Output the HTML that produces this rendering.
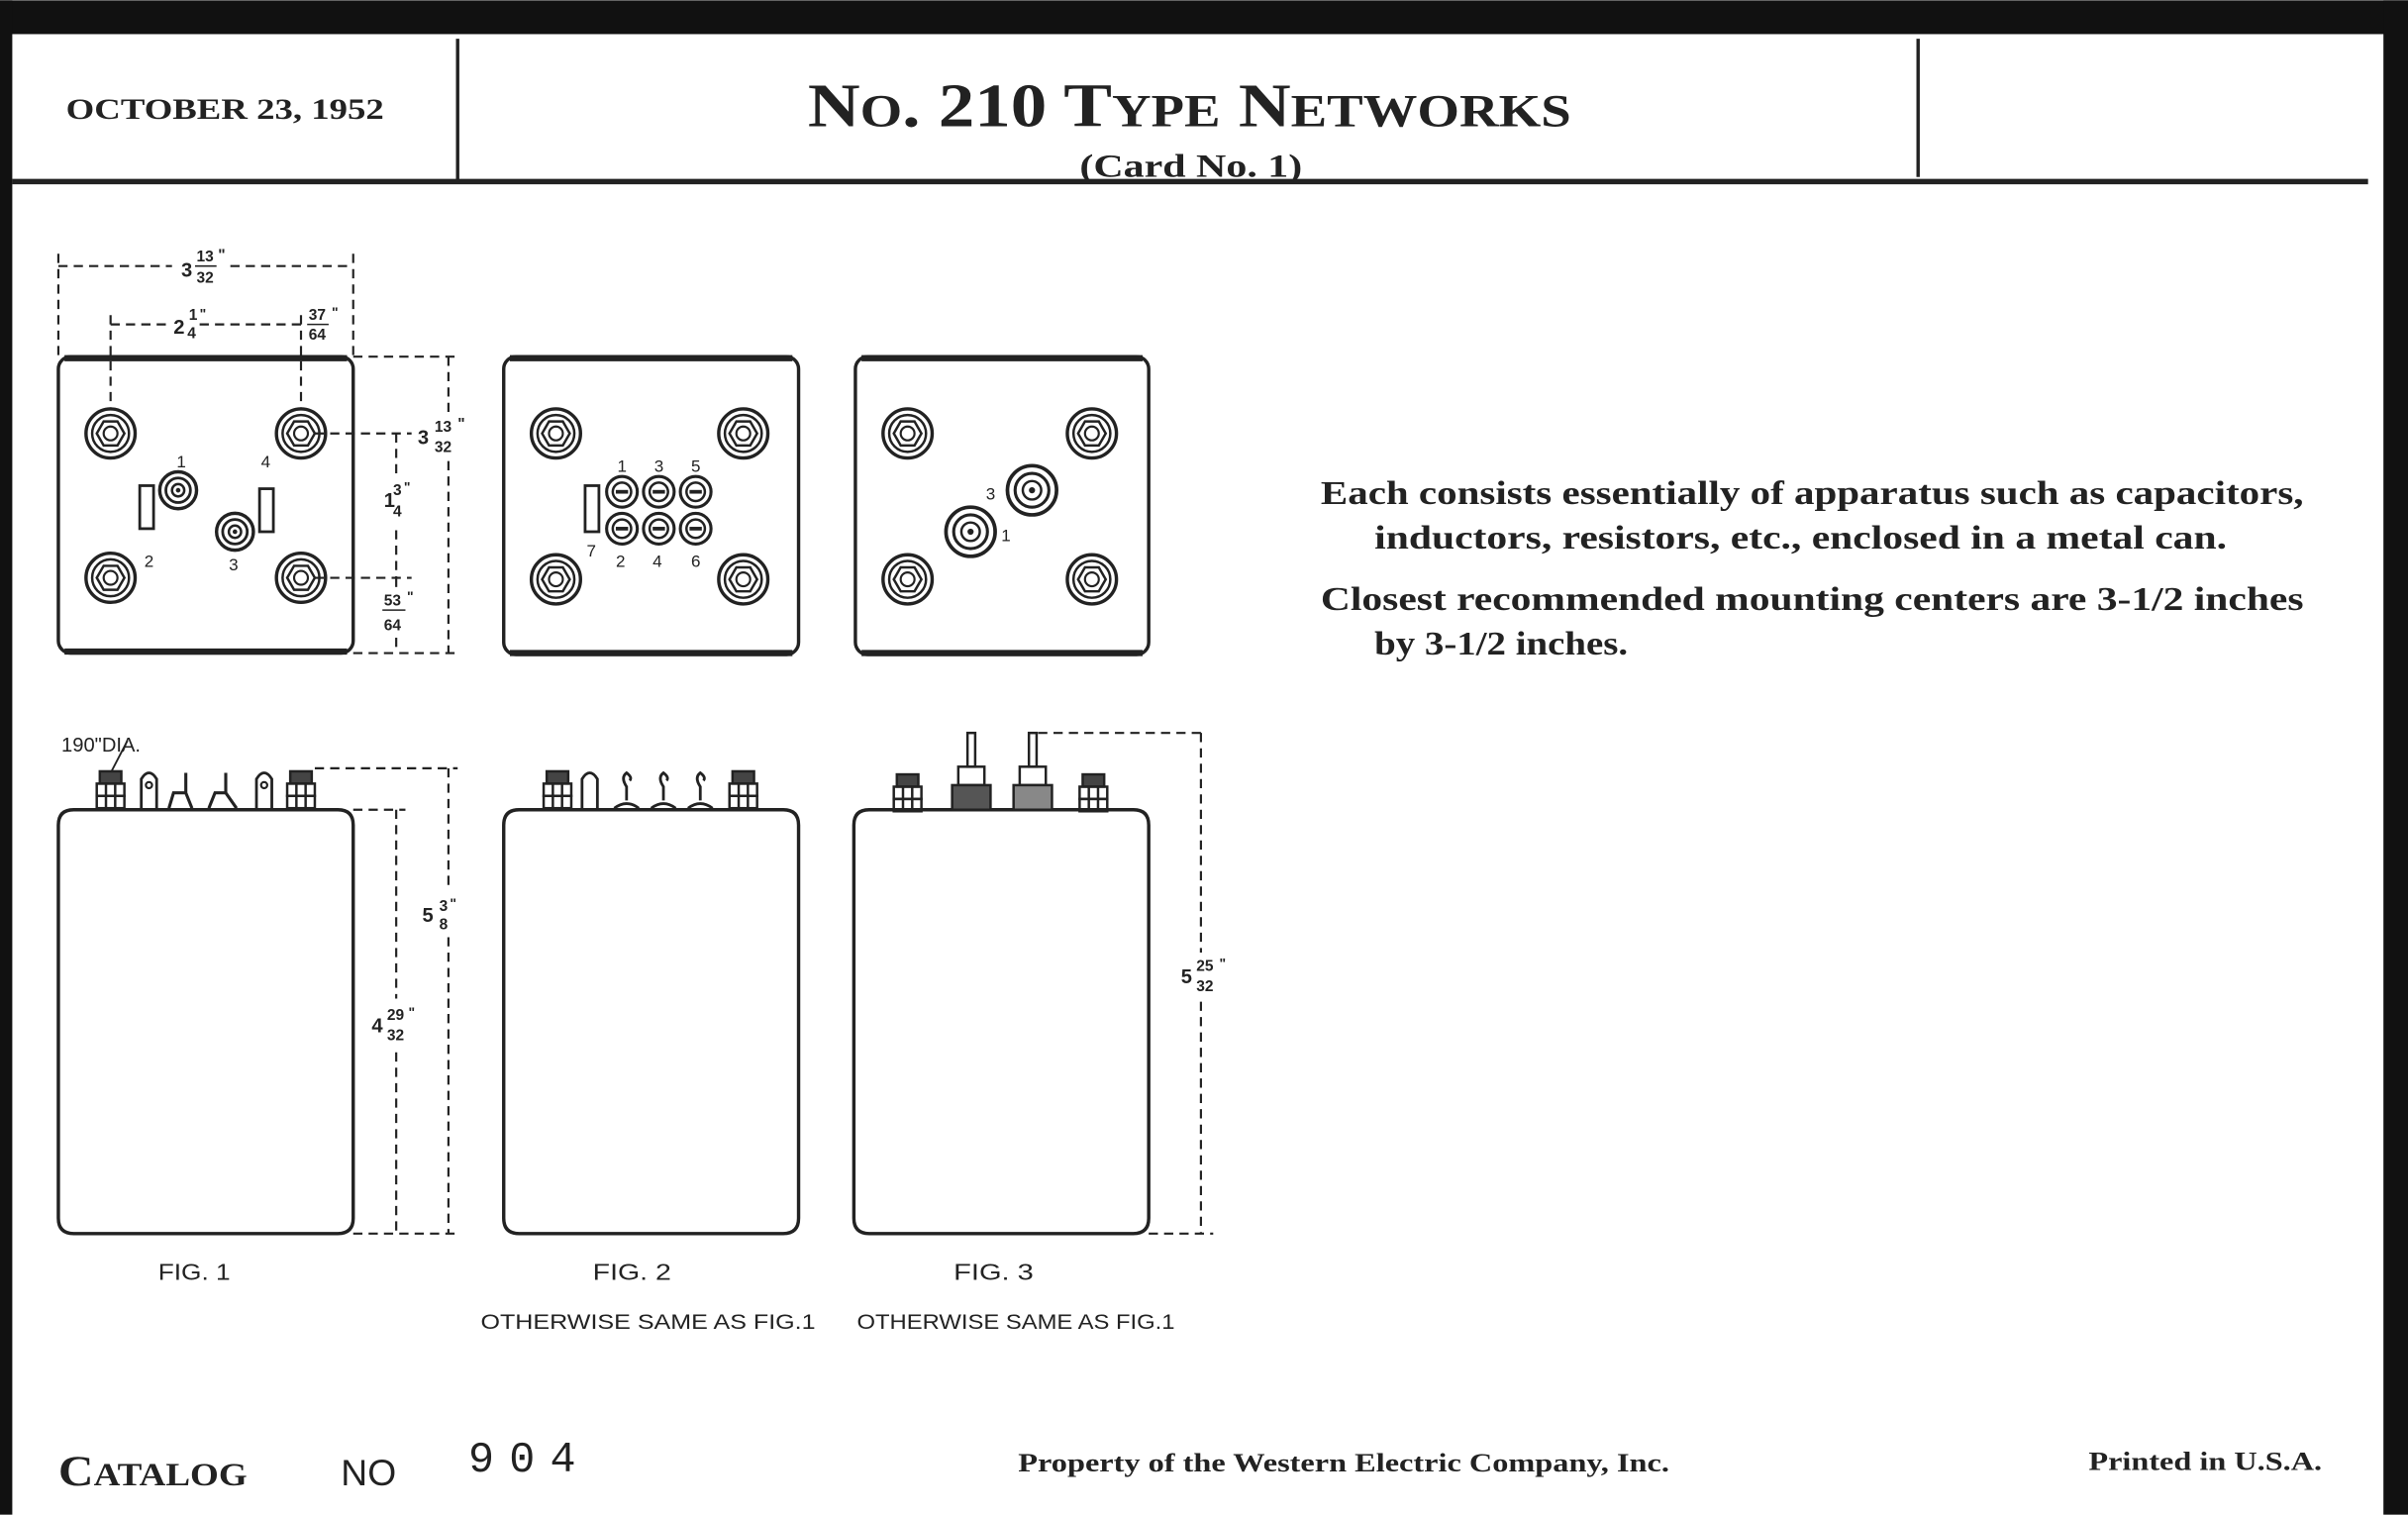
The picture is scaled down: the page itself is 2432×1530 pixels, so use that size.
<!DOCTYPE html>
<html><head><meta charset="utf-8"><style>
html,body{margin:0;padding:0;background:#fff;}
svg{display:block;}
text{fill:#222;}
.ser{font-family:"Liberation Serif",serif;font-weight:bold;}
.san{font-family:"Liberation Sans",sans-serif;}
</style></head><body>
<svg width="2432" height="1530" viewBox="0 0 1568 986" xmlns="http://www.w3.org/2000/svg">
<defs>
<g id="nut"><circle r="16" fill="none" stroke="#222" stroke-width="2.2"/><circle r="12" fill="none" stroke="#222" stroke-width="1.6"/><polygon points="9,0 4.5,7.8 -4.5,7.8 -9,0 -4.5,-7.8 4.5,-7.8" fill="none" stroke="#222" stroke-width="1.6"/><circle r="4.5" fill="none" stroke="#222" stroke-width="1.4"/></g>
<g id="term"><circle r="12" fill="none" stroke="#222" stroke-width="2.2"/><circle r="8" fill="none" stroke="#222" stroke-width="1.8"/><circle r="4" fill="none" stroke="#222" stroke-width="1.6"/><circle r="1.5" fill="#222"/></g>
<g id="sm"><circle r="10" fill="none" stroke="#222" stroke-width="2"/><circle r="6" fill="none" stroke="#222" stroke-width="1.6"/><rect x="-4" y="-1.2" width="8" height="2.4" fill="#222"/></g>
<g id="big"><circle r="16" fill="none" stroke="#222" stroke-width="2.4"/><circle r="11" fill="none" stroke="#222" stroke-width="2"/><circle r="6" fill="none" stroke="#222" stroke-width="1.6"/><circle r="2" fill="#222"/></g>
<g id="stud" fill="none" stroke="#222" stroke-width="1.6"><rect x="-7" y="0" width="14" height="8" fill="#444"/><rect x="-9" y="8" width="18" height="8"/><rect x="-9" y="16" width="18" height="8"/><line x1="-3" y1="8" x2="-3" y2="24"/><line x1="3" y1="8" x2="3" y2="24"/></g>
</defs>
<rect x="0" y="0" width="1568" height="22" fill="#111"/>
<rect x="0" y="0" width="8" height="986" fill="#111"/>
<rect x="1552" y="0" width="16" height="986" fill="#111"/>
<line x1="298" y1="25" x2="298" y2="117" stroke="#222" stroke-width="2.2"/>
<line x1="1249" y1="25" x2="1249" y2="115" stroke="#222" stroke-width="2.2"/>
<line x1="8" y1="118" x2="1542" y2="118" stroke="#222" stroke-width="3.5"/>
<text class="ser" x="43" y="77" font-size="19" textLength="207" lengthAdjust="spacingAndGlyphs">OCTOBER 23, 1952</text>
<text class="ser" x="526" y="82" font-size="40" textLength="497" lengthAdjust="spacingAndGlyphs">N<tspan font-size="30">O</tspan>. 210 T<tspan font-size="30">YPE</tspan> N<tspan font-size="30">ETWORKS</tspan></text>
<text class="ser" x="703" y="115" font-size="21" textLength="145" lengthAdjust="spacingAndGlyphs">(Card No. 1)</text>

<g fill="none" stroke="#222">
<rect x="38" y="232" width="192" height="193" rx="8" stroke-width="2.2"/>
<line x1="42" y1="233" x2="226" y2="233" stroke-width="4"/><line x1="42" y1="424" x2="226" y2="424" stroke-width="4"/>
<rect x="328" y="232" width="192" height="194" rx="8" stroke-width="2.2"/>
<line x1="332" y1="233" x2="516" y2="233" stroke-width="4"/><line x1="332" y1="425" x2="516" y2="425" stroke-width="4"/>
<rect x="557" y="232" width="191" height="194" rx="8" stroke-width="2.2"/>
<line x1="561" y1="233" x2="744" y2="233" stroke-width="4"/><line x1="561" y1="425" x2="744" y2="425" stroke-width="4"/>
<rect x="91" y="316" width="9" height="28" stroke-width="1.8"/>
<rect x="169" y="318" width="9" height="28" stroke-width="1.8"/>
<rect x="381" y="316" width="9" height="30" stroke-width="1.8"/>
<g stroke-width="1.4" stroke-dasharray="6,4">
<line x1="38" y1="173" x2="112" y2="173"/><line x1="150" y1="173" x2="230" y2="173"/>
<line x1="38" y1="165" x2="38" y2="232"/><line x1="230" y1="165" x2="230" y2="232"/>
<line x1="72" y1="211" x2="110" y2="211"/><line x1="130" y1="211" x2="196" y2="211"/>
<line x1="72" y1="205" x2="72" y2="266"/><line x1="196" y1="205" x2="196" y2="266"/>
<line x1="230" y1="232" x2="300" y2="232"/><line x1="292" y1="232" x2="292" y2="270"/><line x1="292" y1="300" x2="292" y2="425"/>
<line x1="205" y1="282" x2="268" y2="282"/><line x1="258" y1="282" x2="258" y2="310"/><line x1="258" y1="345" x2="258" y2="376"/>
<line x1="205" y1="376" x2="268" y2="376"/><line x1="258" y1="376" x2="258" y2="382"/><line x1="258" y1="415" x2="258" y2="425"/>
<line x1="230" y1="425" x2="300" y2="425"/>
<line x1="205" y1="500" x2="298" y2="500"/><line x1="292" y1="500" x2="292" y2="580"/><line x1="292" y1="610" x2="292" y2="803"/>
<line x1="230" y1="527" x2="264" y2="527"/><line x1="258" y1="527" x2="258" y2="650"/><line x1="258" y1="685" x2="258" y2="803"/>
<line x1="230" y1="803" x2="298" y2="803"/>
<line x1="676" y1="477" x2="782" y2="477"/><line x1="782" y1="477" x2="782" y2="620"/><line x1="782" y1="652" x2="782" y2="803"/>
<line x1="748" y1="803" x2="790" y2="803"/>
</g>
<path d="M38 537 Q38 527 48 527 L220 527 Q230 527 230 537 L230 793 Q230 803 220 803 L48 803 Q38 803 38 793 Z" stroke-width="2.2"/>
<path d="M328 537 Q328 527 338 527 L510 527 Q520 527 520 537 L520 793 Q520 803 510 803 L338 803 Q328 803 328 793 Z" stroke-width="2.2"/>
<path d="M556 537 Q556 527 566 527 L738 527 Q748 527 748 537 L748 793 Q748 803 738 803 L566 803 Q556 803 556 793 Z" stroke-width="2.2"/>
<path d="M92 526 L92 507 Q97 499 102 507 L102 526" stroke-width="1.8"/><circle cx="97" cy="511" r="2" stroke-width="1.4"/>
<path d="M167 526 L167 507 Q172 499 177 507 L177 526" stroke-width="1.8"/><circle cx="172" cy="511" r="2" stroke-width="1.4"/>
<path d="M110 526 L113 516 L121 516 L121 503 M125 526 L121 516" stroke-width="2"/>
<path d="M136 526 L140 516 L147 516 L147 503 M154 526 L147 516" stroke-width="2"/>
<line x1="70" y1="507" x2="83" y2="482" stroke-width="1.2"/>
<path d="M379 526 L379 507 Q384 499 389 507 L389 526" stroke-width="1.8"/>
<path d="M400 526 Q408 520 416 526 M408 521 L408 512 Q404 506 408 503 Q412 506 410 508" stroke-width="1.8"/>
<path d="M424 526 Q432 520 440 526 M432 521 L432 512 Q428 506 432 503 Q436 506 434 508" stroke-width="1.8"/>
<path d="M448 526 Q456 520 464 526 M456 521 L456 512 Q452 506 456 503 Q460 506 458 508" stroke-width="1.8"/>
<rect x="630" y="477" width="5" height="22" stroke-width="1.6"/><rect x="624" y="499" width="17" height="12" stroke-width="1.6"/><rect x="620" y="511" width="25" height="16" fill="#555" stroke-width="1.6"/>
<rect x="670" y="477" width="5" height="22" stroke-width="1.6"/><rect x="664" y="499" width="17" height="12" stroke-width="1.6"/><rect x="660" y="511" width="25" height="16" fill="#888" stroke-width="1.6"/>
</g>
<use href="#nut" x="72" y="282"/><use href="#nut" x="196" y="282"/><use href="#nut" x="72" y="376"/><use href="#nut" x="196" y="376"/>
<use href="#term" x="116" y="319"/><use href="#term" x="153" y="346"/>
<use href="#nut" x="362" y="282"/><use href="#nut" x="484" y="282"/><use href="#nut" x="362" y="377"/><use href="#nut" x="484" y="377"/>
<use href="#sm" x="405" y="320"/><use href="#sm" x="429" y="320"/><use href="#sm" x="453" y="320"/>
<use href="#sm" x="405" y="344"/><use href="#sm" x="429" y="344"/><use href="#sm" x="453" y="344"/>
<use href="#nut" x="591" y="282"/><use href="#nut" x="711" y="282"/><use href="#nut" x="591" y="377"/><use href="#nut" x="711" y="377"/>
<use href="#big" x="672" y="319"/><use href="#big" x="632" y="346"/>
<use href="#stud" x="72" y="502"/><use href="#stud" x="196" y="502"/>
<use href="#stud" x="363" y="502"/><use href="#stud" x="484" y="502"/>
<use href="#stud" x="591" y="504"/><use href="#stud" x="712" y="504"/>

<g class="san" font-size="11" fill="#222">
<text x="115" y="304">1</text><text x="170" y="304">4</text><text x="94" y="369">2</text><text x="149" y="371">3</text>
<text x="402" y="307">1</text><text x="426" y="307">3</text><text x="450" y="307">5</text>
<text x="382" y="362">7</text><text x="401" y="369">2</text><text x="425" y="369">4</text><text x="450" y="369">6</text>
<text x="642" y="325">3</text><text x="652" y="352">1</text>
</g>
<g class="san" font-weight="bold" font-size="13">
<text x="118" y="180">3</text><text x="128" y="170" font-size="10">13</text><line x1="127" y1="173" x2="141" y2="173" stroke="#222"/><text x="128" y="184" font-size="10">32</text><text x="142" y="169" font-size="10">"</text>
<text x="113" y="217">2</text><text x="123" y="208" font-size="10">1</text><text x="122" y="220" font-size="10">4</text><text x="130" y="207" font-size="9">"</text>
<text x="201" y="208" font-size="10">37</text><line x1="200" y1="211" x2="214" y2="211" stroke="#222"/><text x="201" y="221" font-size="10">64</text><text x="216" y="206" font-size="9">"</text>
<text x="272" y="289">3</text><text x="283" y="281" font-size="10">13</text><text x="283" y="294" font-size="10">32</text><text x="298" y="279" font-size="10">"</text>
<text x="250" y="330">1</text><text x="256" y="322" font-size="10">3</text><text x="256" y="336" font-size="10">4</text><text x="263" y="320" font-size="9">"</text>
<text x="250" y="394" font-size="10">53</text><line x1="249" y1="397" x2="264" y2="397" stroke="#222"/><text x="250" y="410" font-size="10">64</text><text x="265" y="391" font-size="9">"</text>
<text x="275" y="600">5</text><text x="286" y="593" font-size="10">3</text><text x="286" y="605" font-size="10">8</text><text x="293" y="591" font-size="9">"</text>
<text x="242" y="672">4</text><text x="252" y="664" font-size="10">29</text><text x="252" y="677" font-size="10">32</text><text x="266" y="662" font-size="9">"</text>
<text x="769" y="640">5</text><text x="779" y="632" font-size="10">25</text><text x="779" y="645" font-size="10">32</text><text x="794" y="630" font-size="9">"</text>
</g>
<text class="san" x="40" y="489" font-size="13">190"DIA.</text>
<text class="san" x="103" y="833" font-size="15" textLength="47" lengthAdjust="spacingAndGlyphs">FIG. 1</text>
<text class="san" x="386" y="833" font-size="15" textLength="51" lengthAdjust="spacingAndGlyphs">FIG. 2</text>
<text class="san" x="621" y="833" font-size="15" textLength="52" lengthAdjust="spacingAndGlyphs">FIG. 3</text>
<text class="san" x="313" y="865" font-size="14" textLength="218" lengthAdjust="spacingAndGlyphs">OTHERWISE  SAME  AS FIG.1</text>
<text class="san" x="558" y="865" font-size="14" textLength="207" lengthAdjust="spacingAndGlyphs">OTHERWISE SAME  AS FIG.1</text>

<g class="ser" font-size="22">
<text x="860" y="328" textLength="640" lengthAdjust="spacingAndGlyphs">Each consists essentially of apparatus such as capacitors,</text>
<text x="895" y="357" textLength="555" lengthAdjust="spacingAndGlyphs">inductors, resistors, etc., enclosed in a metal can.</text>
<text x="860" y="397" textLength="640" lengthAdjust="spacingAndGlyphs">Closest recommended mounting centers are 3-1/2 inches</text>
<text x="895" y="426" textLength="165" lengthAdjust="spacingAndGlyphs">by 3-1/2 inches.</text>
</g>
<text class="ser" x="38" y="967" font-size="28" textLength="123" lengthAdjust="spacingAndGlyphs">C<tspan font-size="21">ATALOG</tspan></text>
<text class="san" x="222" y="967" font-size="24">NO</text>
<text x="305" y="958" font-size="28" font-family="Liberation Mono, monospace" textLength="70" lengthAdjust="spacing">904</text>
<text class="ser" x="663" y="958" font-size="17" textLength="424" lengthAdjust="spacingAndGlyphs">Property of the Western Electric Company, Inc.</text>
<text class="ser" x="1360" y="957" font-size="17" textLength="152" lengthAdjust="spacingAndGlyphs">Printed in U.S.A.</text>
</svg>
</body></html>
